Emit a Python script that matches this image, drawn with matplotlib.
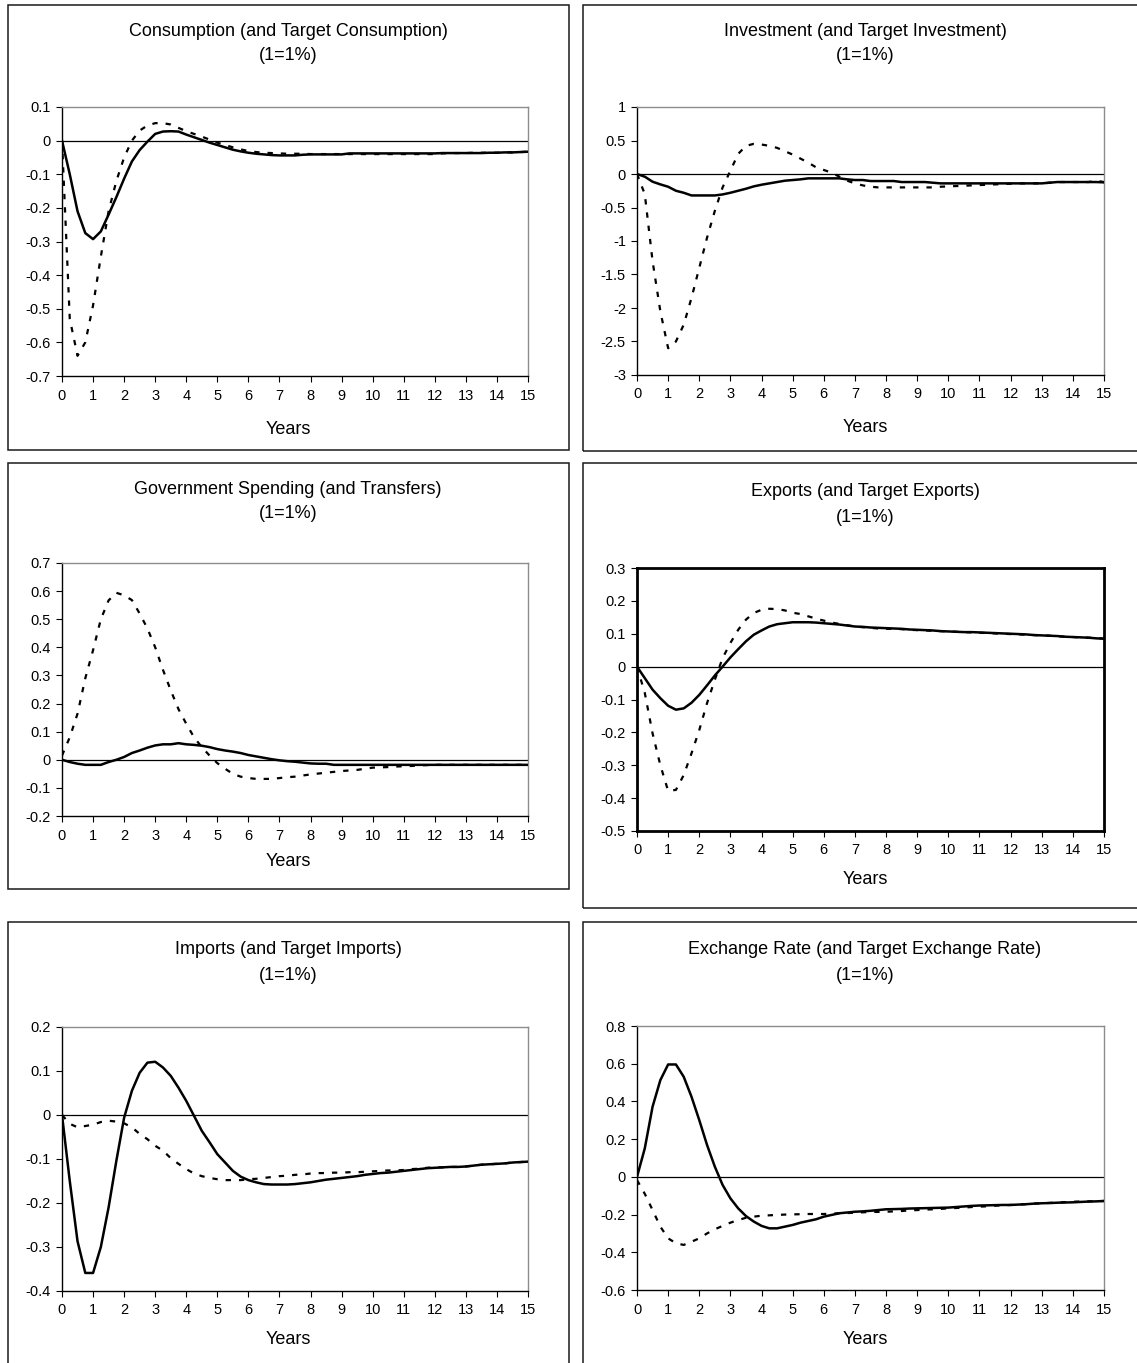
import numpy as np
import matplotlib
matplotlib.use("Agg")
import matplotlib.pyplot as plt
from matplotlib.patches import Rectangle

plt.rcParams["font.family"] = ["Liberation Sans", "DejaVu Sans"]

# ---------------------------------------------------------------- data
# quarterly horizon, 0 .. 15 years
years = np.arange(61) * 0.25
xtick_vals = list(range(16))

cons_actual = [0.000, -0.100, -0.210, -0.275, -0.293, -0.270, -0.220, -0.168, -0.113, -0.062,
               -0.028, -0.003, 0.020, 0.027, 0.028, 0.027, 0.018, 0.010, 0.002, -0.006,
               -0.013, -0.020, -0.027, -0.032, -0.036, -0.039, -0.041, -0.043, -0.044, -0.044,
               -0.044, -0.042, -0.041, -0.041, -0.041, -0.041, -0.041, -0.038, -0.038, -0.038,
               -0.038, -0.038, -0.038, -0.038, -0.038, -0.038, -0.038, -0.038, -0.038, -0.037,
               -0.037, -0.037, -0.037, -0.037, -0.037, -0.036, -0.036, -0.035, -0.035, -0.034,
               -0.033]
cons_target = [0.000, -0.530, -0.640, -0.600, -0.490, -0.345, -0.210, -0.120, -0.050, 0.000,
               0.030, 0.045, 0.052, 0.052, 0.048, 0.038, 0.028, 0.020, 0.012, 0.003,
               -0.006, -0.013, -0.020, -0.026, -0.031, -0.034, -0.036, -0.037, -0.038, -0.039,
               -0.039, -0.039, -0.040, -0.040, -0.040, -0.040, -0.040, -0.040, -0.040, -0.040,
               -0.040, -0.040, -0.040, -0.040, -0.040, -0.040, -0.040, -0.040, -0.040, -0.038,
               -0.037, -0.037, -0.037, -0.036, -0.036, -0.036, -0.036, -0.035, -0.035, -0.034,
               -0.033]

inv_actual = [0.000, -0.040, -0.115, -0.155, -0.190, -0.250, -0.280, -0.320, -0.320, -0.320,
              -0.320, -0.305, -0.280, -0.250, -0.220, -0.185, -0.160, -0.140, -0.120, -0.100,
              -0.090, -0.080, -0.065, -0.065, -0.065, -0.065, -0.065, -0.080, -0.090, -0.090,
              -0.105, -0.105, -0.105, -0.105, -0.120, -0.120, -0.120, -0.120, -0.130, -0.140,
              -0.140, -0.140, -0.140, -0.140, -0.140, -0.140, -0.140, -0.140, -0.140, -0.140,
              -0.140, -0.140, -0.140, -0.130, -0.120, -0.120, -0.120, -0.120, -0.120, -0.120,
              -0.125]
inv_target = [0.000, -0.300, -1.300, -2.050, -2.600, -2.500, -2.250, -1.850, -1.400, -0.950,
              -0.550, -0.200, 0.050, 0.300, 0.420, 0.450, 0.440, 0.420, 0.390, 0.340,
              0.290, 0.230, 0.170, 0.100, 0.060, 0.020, -0.040, -0.100, -0.140, -0.170,
              -0.190, -0.200, -0.200, -0.200, -0.200, -0.200, -0.200, -0.200, -0.200, -0.190,
              -0.185, -0.180, -0.175, -0.170, -0.165, -0.160, -0.155, -0.150, -0.145, -0.140,
              -0.140, -0.140, -0.140, -0.130, -0.120, -0.120, -0.120, -0.120, -0.120, -0.100,
              -0.120]

gov_actual = [0.000, -0.008, -0.014, -0.018, -0.018, -0.018, -0.008, 0.000, 0.010, 0.024,
              0.033, 0.043, 0.051, 0.055, 0.055, 0.059, 0.055, 0.053, 0.050, 0.045,
              0.038, 0.033, 0.029, 0.024, 0.017, 0.012, 0.007, 0.002, -0.002, -0.005,
              -0.007, -0.010, -0.013, -0.014, -0.014, -0.018, -0.018, -0.018, -0.018, -0.018,
              -0.018, -0.018, -0.018, -0.018, -0.018, -0.018, -0.018, -0.018, -0.018, -0.018,
              -0.018, -0.018, -0.018, -0.018, -0.018, -0.018, -0.018, -0.018, -0.018, -0.018,
              -0.018]
gov_target = [0.015, 0.080, 0.164, 0.290, 0.390, 0.500, 0.567, 0.594, 0.585, 0.568,
              0.520, 0.467, 0.400, 0.320, 0.247, 0.180, 0.128, 0.080, 0.045, 0.015,
              -0.012, -0.032, -0.050, -0.060, -0.065, -0.068, -0.068, -0.068, -0.065, -0.062,
              -0.060, -0.056, -0.052, -0.049, -0.046, -0.043, -0.040, -0.038, -0.036, -0.032,
              -0.028, -0.027, -0.026, -0.024, -0.023, -0.022, -0.020, -0.019, -0.018, -0.018,
              -0.018, -0.018, -0.018, -0.018, -0.018, -0.018, -0.018, -0.018, -0.018, -0.018,
              -0.018]

exp_actual = [0.000, -0.035, -0.070, -0.096, -0.119, -0.131, -0.127, -0.110, -0.086, -0.057,
              -0.027, 0.000, 0.028, 0.053, 0.077, 0.097, 0.110, 0.122, 0.129, 0.132,
              0.135, 0.135, 0.135, 0.134, 0.132, 0.130, 0.128, 0.125, 0.122, 0.121,
              0.119, 0.118, 0.117, 0.116, 0.115, 0.113, 0.112, 0.111, 0.110, 0.108,
              0.107, 0.106, 0.105, 0.105, 0.104, 0.103, 0.102, 0.101, 0.100, 0.099,
              0.098, 0.096, 0.095, 0.094, 0.093, 0.091, 0.090, 0.089, 0.088, 0.086,
              0.085]
exp_target = [0.000, -0.080, -0.203, -0.300, -0.378, -0.375, -0.330, -0.264, -0.193, -0.111,
              -0.040, 0.026, 0.072, 0.112, 0.143, 0.163, 0.173, 0.176, 0.175, 0.171,
              0.164, 0.160, 0.153, 0.146, 0.140, 0.134, 0.130, 0.126, 0.122, 0.120,
              0.118, 0.116, 0.115, 0.115, 0.114, 0.112, 0.111, 0.110, 0.109, 0.108,
              0.107, 0.106, 0.105, 0.104, 0.103, 0.102, 0.101, 0.100, 0.099, 0.098,
              0.097, 0.096, 0.095, 0.094, 0.092, 0.091, 0.090, 0.089, 0.088, 0.087,
              0.085]

imp_actual = [0.000, -0.150, -0.287, -0.359, -0.359, -0.300, -0.210, -0.104, -0.006, 0.055,
              0.096, 0.119, 0.121, 0.108, 0.089, 0.062, 0.032, -0.002, -0.036, -0.062,
              -0.089, -0.108, -0.127, -0.140, -0.148, -0.153, -0.157, -0.158, -0.158, -0.158,
              -0.157, -0.155, -0.153, -0.150, -0.147, -0.145, -0.143, -0.141, -0.139, -0.136,
              -0.134, -0.132, -0.131, -0.129, -0.127, -0.125, -0.123, -0.121, -0.120, -0.119,
              -0.118, -0.118, -0.117, -0.115, -0.113, -0.112, -0.111, -0.110, -0.108, -0.107,
              -0.106]
imp_target = [0.000, -0.020, -0.028, -0.025, -0.022, -0.016, -0.013, -0.015, -0.019, -0.028,
              -0.043, -0.055, -0.070, -0.081, -0.098, -0.111, -0.123, -0.133, -0.139, -0.143,
              -0.146, -0.148, -0.148, -0.148, -0.146, -0.145, -0.143, -0.141, -0.139, -0.138,
              -0.136, -0.135, -0.133, -0.132, -0.132, -0.131, -0.131, -0.130, -0.130, -0.129,
              -0.128, -0.127, -0.126, -0.126, -0.125, -0.123, -0.122, -0.120, -0.119, -0.119,
              -0.118, -0.118, -0.117, -0.115, -0.113, -0.112, -0.111, -0.110, -0.108, -0.107,
              -0.106]

fx_actual = [0.000, 0.151, 0.372, 0.513, 0.596, 0.596, 0.531, 0.425, 0.301, 0.169,
             0.054, -0.043, -0.114, -0.167, -0.208, -0.237, -0.260, -0.273, -0.273, -0.264,
             -0.255, -0.243, -0.234, -0.225, -0.211, -0.202, -0.193, -0.189, -0.185, -0.183,
             -0.180, -0.176, -0.172, -0.171, -0.170, -0.168, -0.167, -0.166, -0.165, -0.164,
             -0.163, -0.160, -0.157, -0.154, -0.152, -0.151, -0.150, -0.149, -0.149, -0.147,
             -0.145, -0.142, -0.140, -0.139, -0.137, -0.136, -0.135, -0.133, -0.131, -0.130,
             -0.128]
fx_target = [-0.017, -0.090, -0.176, -0.264, -0.326, -0.352, -0.361, -0.344, -0.326, -0.300,
             -0.278, -0.260, -0.243, -0.229, -0.217, -0.211, -0.206, -0.204, -0.202, -0.200,
             -0.199, -0.198, -0.197, -0.197, -0.197, -0.195, -0.193, -0.192, -0.190, -0.188,
             -0.186, -0.186, -0.185, -0.183, -0.181, -0.178, -0.176, -0.174, -0.172, -0.170,
             -0.167, -0.165, -0.163, -0.160, -0.158, -0.156, -0.153, -0.151, -0.149, -0.147,
             -0.145, -0.142, -0.140, -0.138, -0.136, -0.134, -0.132, -0.131, -0.130, -0.129,
             -0.128]

titles = ["Consumption (and Target Consumption)",
          "Investment (and Target Investment)",
          "Government Spending (and Transfers)",
          "Exports (and Target Exports)",
          "Imports (and Target Imports)",
          "Exchange Rate (and Target Exchange Rate)"]
subtitle = "(1=1%)"
xlabel = "Years"

yticks_cons = [0.1, 0, -0.1, -0.2, -0.3, -0.4, -0.5, -0.6, -0.7]
ylabels_cons = ["0.1", "0", "-0.1", "-0.2", "-0.3", "-0.4", "-0.5", "-0.6", "-0.7"]
yticks_inv = [1, 0.5, 0, -0.5, -1, -1.5, -2, -2.5, -3]
ylabels_inv = ["1", "0.5", "0", "-0.5", "-1", "-1.5", "-2", "-2.5", "-3"]
yticks_gov = [0.7, 0.6, 0.5, 0.4, 0.3, 0.2, 0.1, 0, -0.1, -0.2]
ylabels_gov = ["0.7", "0.6", "0.5", "0.4", "0.3", "0.2", "0.1", "0", "-0.1", "-0.2"]
yticks_exp = [0.3, 0.2, 0.1, 0, -0.1, -0.2, -0.3, -0.4, -0.5]
ylabels_exp = ["0.3", "0.2", "0.1", "0", "-0.1", "-0.2", "-0.3", "-0.4", "-0.5"]
yticks_imp = [0.2, 0.1, 0, -0.1, -0.2, -0.3, -0.4]
ylabels_imp = ["0.2", "0.1", "0", "-0.1", "-0.2", "-0.3", "-0.4"]
yticks_fx = [0.8, 0.6, 0.4, 0.2, 0, -0.2, -0.4, -0.6]
ylabels_fx = ["0.8", "0.6", "0.4", "0.2", "0", "-0.2", "-0.4", "-0.6"]

# ---------------------------------------------------------------- layout (pixels)
W, H, DPI = 1137, 1363, 100
fig = plt.figure(figsize=(W / DPI, H / DPI), dpi=DPI)


def fx_(x):
    return x / W


def fy_(y):
    return 1 - y / H


panels = [
    dict(actual=cons_actual, target=cons_target, yt=yticks_cons, yl=ylabels_cons,
         axes=(62, 107, 528, 376), box=(8, 5, 569, 450), cx=288, ty=(32, 55), ly=430),
    dict(actual=inv_actual, target=inv_target, yt=yticks_inv, yl=ylabels_inv,
         axes=(637, 107, 1104, 375), box=(583, 5, 1148, 451), cx=865, ty=(32, 55), ly=428),
    dict(actual=gov_actual, target=gov_target, yt=yticks_gov, yl=ylabels_gov,
         axes=(62, 563, 528, 816), box=(8, 463, 569, 889), cx=288, ty=(490, 513), ly=862),
    dict(actual=exp_actual, target=exp_target, yt=yticks_exp, yl=ylabels_exp,
         axes=(637, 568, 1104, 831), box=(583, 463, 1148, 908), cx=865, ty=(492, 517), ly=879,
         heavy=True),
    dict(actual=imp_actual, target=imp_target, yt=yticks_imp, yl=ylabels_imp,
         axes=(62, 1027, 528, 1291), box=(8, 922, 569, 1375), cx=288, ty=(950, 975), ly=1339),
    dict(actual=fx_actual, target=fx_target, yt=yticks_fx, yl=ylabels_fx,
         axes=(637, 1026, 1104, 1290), box=(583, 922, 1148, 1375), cx=865, ty=(950, 975), ly=1339),
]

TITLE_FS = 13
TICK_FS = 10.5

for title, p in zip(titles, panels):
    bl, bt, br, bb = p["box"]
    fig.patches.append(Rectangle((fx_(bl), fy_(bb)), (br - bl) / W, (bb - bt) / H,
                                 transform=fig.transFigure, fill=False,
                                 edgecolor="#1a1a1a", linewidth=1.1, zorder=0))

    l, t, r, b = p["axes"]
    ax = fig.add_axes([fx_(l), fy_(b), (r - l) / W, (b - t) / H])
    ax.axhline(0, color="black", linewidth=0.9, zorder=1)
    ax.plot(years, p["target"], color="black", linewidth=1.6,
            linestyle=(0, (2.4, 3.6)), solid_capstyle="butt", zorder=2)
    ax.plot(years, p["actual"], color="black", linewidth=1.8, zorder=3)

    ax.set_xlim(0, 15)
    ax.set_ylim(p["yt"][-1], p["yt"][0])
    ax.set_xticks(xtick_vals)
    ax.set_xticklabels([str(v) for v in xtick_vals])
    ax.set_yticks(p["yt"])
    ax.set_yticklabels(p["yl"])
    ax.tick_params(axis="both", direction="out", length=4, width=0.8,
                   labelsize=TICK_FS, colors="black")
    ax.tick_params(axis="x", pad=5)
    ax.tick_params(axis="y", pad=4)

    if p.get("heavy"):
        for s in ax.spines.values():
            s.set_color("black")
            s.set_linewidth(2.0)
    else:
        for side in ("top", "right"):
            ax.spines[side].set_color("#8c8c8c")
            ax.spines[side].set_linewidth(1.0)
        for side in ("left", "bottom"):
            ax.spines[side].set_color("black")
            ax.spines[side].set_linewidth(1.0)

    cx = p["cx"]
    fig.text(fx_(cx), fy_(p["ty"][0]), title, ha="center", va="center", fontsize=TITLE_FS)
    fig.text(fx_(cx), fy_(p["ty"][1]), subtitle, ha="center", va="center", fontsize=TITLE_FS)
    fig.text(fx_(cx), fy_(p["ly"]), xlabel, ha="center", va="center", fontsize=TITLE_FS)

fig.savefig("out.png", dpi=DPI, facecolor="white")
